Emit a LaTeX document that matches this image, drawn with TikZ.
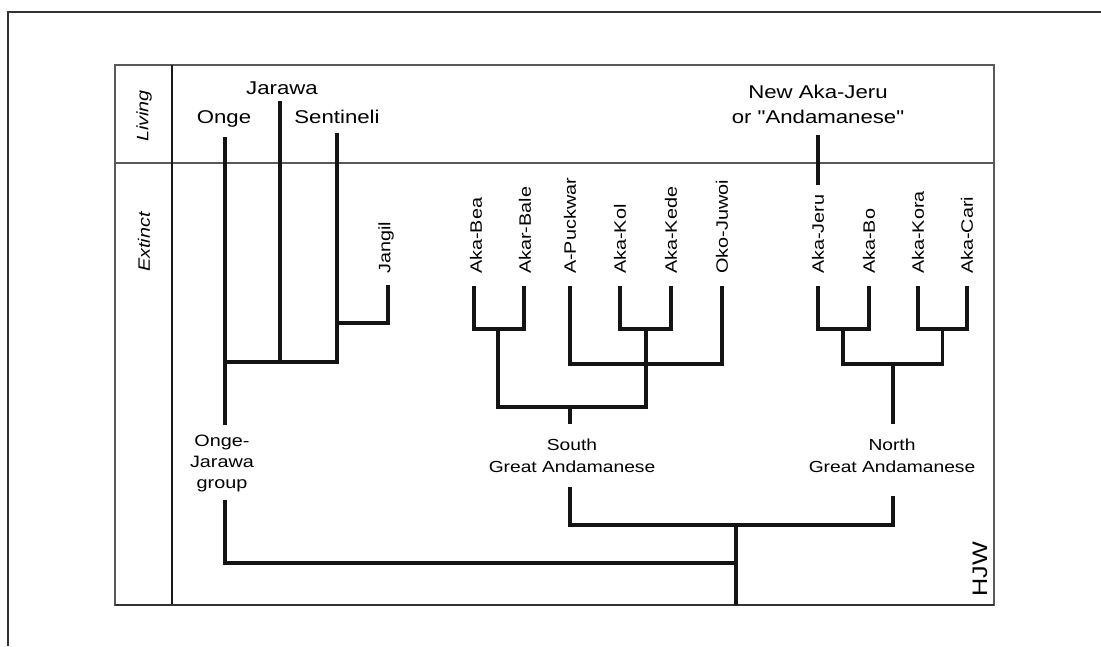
\documentclass[tikz,border=0pt]{standalone}
\usepackage{fontspec}
\setmainfont{Liberation Sans}[FakeStretch=1.2, Ligatures=TeXOff]
\begin{document}
\begin{tikzpicture}[x=1pt,y=-1pt,
  lbl/.style={inner sep=0pt, font=\fontsize{16.5}{21}\selectfont},
  toplbl/.style={inner sep=0pt, font=\fontsize{18.5}{25}\selectfont},
  vlbl/.style={lbl, rotate=90, anchor=west},
  tree/.style={line width=3.3pt, line cap=butt, line join=miter, black!92},
  boxline/.style={line width=1.3pt, black!65},
]
\useasboundingbox (0,0) rectangle (1101,646);
% outer frame
\draw[line width=2pt, black!80] (8,646) -- (8,12) -- (1101,12);
% inner box
\draw[boxline] (115,65) rectangle (994,605);
\draw[boxline] (115,163) -- (994,163);
\draw[line width=1.8pt, black!90] (172,65) -- (172,605);
\draw[line width=1.8pt, black!80] (115,605) -- (994,605);
\node[lbl, font=\fontsize{16.5}{21}\selectfont\itshape, rotate=90] (living) at (144,116) {Living};
\node[lbl, font=\fontsize{16.5}{21}\selectfont\itshape, rotate=90] (extinct) at (144,242) {Extinct};
\node[inner sep=0pt, font=\fontsize{21}{21}\selectfont, rotate=90] (hjw) at (980,569) {HJW};

% living labels
\node[toplbl, anchor=base] (onge) at (224,123) {Onge};
\node[toplbl, anchor=base] (jarawa) at (282,94) {Jarawa};
\node[toplbl, anchor=base] (sent) at (337,123) {Sentineli};
\node[toplbl, anchor=base, align=center] (naj) at (818,123) {New Aka-Jeru\\or "Andamanese"};

% extinct leaves
\node[vlbl] (jangil) at (386,274) {Jangil};
\node[vlbl] (bea) at (476,274) {Aka-Bea};
\node[vlbl] (bale) at (525,274) {Akar-Bale};
\node[vlbl] (puck) at (570,274) {A-Puckwar};
\node[vlbl] (kol) at (620,274) {Aka-Kol};
\node[vlbl] (kede) at (671,274) {Aka-Kede};
\node[vlbl] (oko) at (722,274) {Oko-Juwoi};
\node[vlbl] (jeru) at (818,274) {Aka-Jeru};
\node[vlbl] (bo) at (869,274) {Aka-Bo};
\node[vlbl] (kora) at (918,274) {Aka-Kora};
\node[vlbl] (cari) at (967,274) {Aka-Cari};

% group labels
\node[lbl, anchor=base, align=center] (ojg) at (222,488) {Onge-\\Jarawa\\group};
\node[lbl, font=\fontsize{16}{22}\selectfont, anchor=base, align=center] (sga) at (572,472) {South\\Great Andamanese};
\node[lbl, font=\fontsize{16}{22}\selectfont, anchor=base, align=center] (nga) at (892,472) {North\\Great Andamanese};

% coordinates
\coordinate (ongeT) at (225,137);
\coordinate (ongeB) at (225,425);
\coordinate (ongeJ) at (225,362);
\coordinate (jarawaT) at (280,101);
\coordinate (jarawaB) at (280,362);
\coordinate (sentT) at (337,133);
\coordinate (sjJoin) at (337,323);
\coordinate (ojJoin) at (337,362);
\coordinate (jangilT) at (388,285);
\coordinate (ogroupT) at (225,500);
\coordinate (rootL) at (225,563);
\coordinate (root) at (736,563);
\coordinate (snJ) at (736,525);
\coordinate (rootB) at (736,605);

\coordinate (beaT) at (474,286);
\coordinate (baleT) at (524,286);
\coordinate (puckT) at (570,286);
\coordinate (kolT) at (620,286);
\coordinate (kedeT) at (671,286);
\coordinate (okoT) at (722,286);
\coordinate (beaJ) at (498,329);
\coordinate (kolJ) at (646,329);
\coordinate (pkJ) at (646,364);
\coordinate (sJL) at (498,407);
\coordinate (sJR) at (646,407);
\coordinate (southJ) at (570,407);
\coordinate (southAbove) at (570,424);
\coordinate (southLT) at (570,487);
\coordinate (southB) at (570,525);

\coordinate (najT) at (818,135);
\coordinate (najB) at (818,185);
\coordinate (jeruT) at (818,286);
\coordinate (boT) at (869,286);
\coordinate (koraT) at (918,286);
\coordinate (cariT) at (967,286);
\coordinate (jbJ) at (843,329);
\coordinate (kcJ) at (942.5,329);
\coordinate (jbN) at (843,364);
\coordinate (kcN) at (942.5,364);
\coordinate (nJ) at (893,364);
\coordinate (northAbove) at (893,424);
\coordinate (northLT) at (893,496);
\coordinate (northB) at (893,525);

% Onge-Jarawa
\draw[tree] (ongeT) -- (ongeB);
\draw[tree] (jarawaT) -- (jarawaB);
\draw[tree] (sentT) -- (ojJoin) -- (ongeJ);
\draw[tree] (sjJoin) -| (jangilT);
\draw[tree] (ogroupT) -- (rootL) -- (root);

% South
\draw[tree] (beaT) |- (beaJ) -| (baleT);
\draw[tree] (kolT) |- (kolJ) -| (kedeT);
\draw[tree] (puckT) |- (pkJ) -| (okoT);
\draw[tree] (beaJ) -- (sJL) -- (sJR) -- (kolJ);
\draw[tree] (southJ) -- (southAbove);

% North
\draw[tree] (najT) -- (najB);
\draw[tree] (jeruT) |- (jbJ) -| (boT);
\draw[tree] (koraT) |- (kcJ) -| (cariT);
\draw[tree] (jbJ) -- (jbN) -- (kcN) -- (kcJ);
\draw[tree] (nJ) -- (northAbove);

% root
\draw[tree] (southLT) -- (southB) -- (northB) -- (northLT);
\draw[tree] (snJ) -- (rootB);
\end{tikzpicture}
\end{document}
